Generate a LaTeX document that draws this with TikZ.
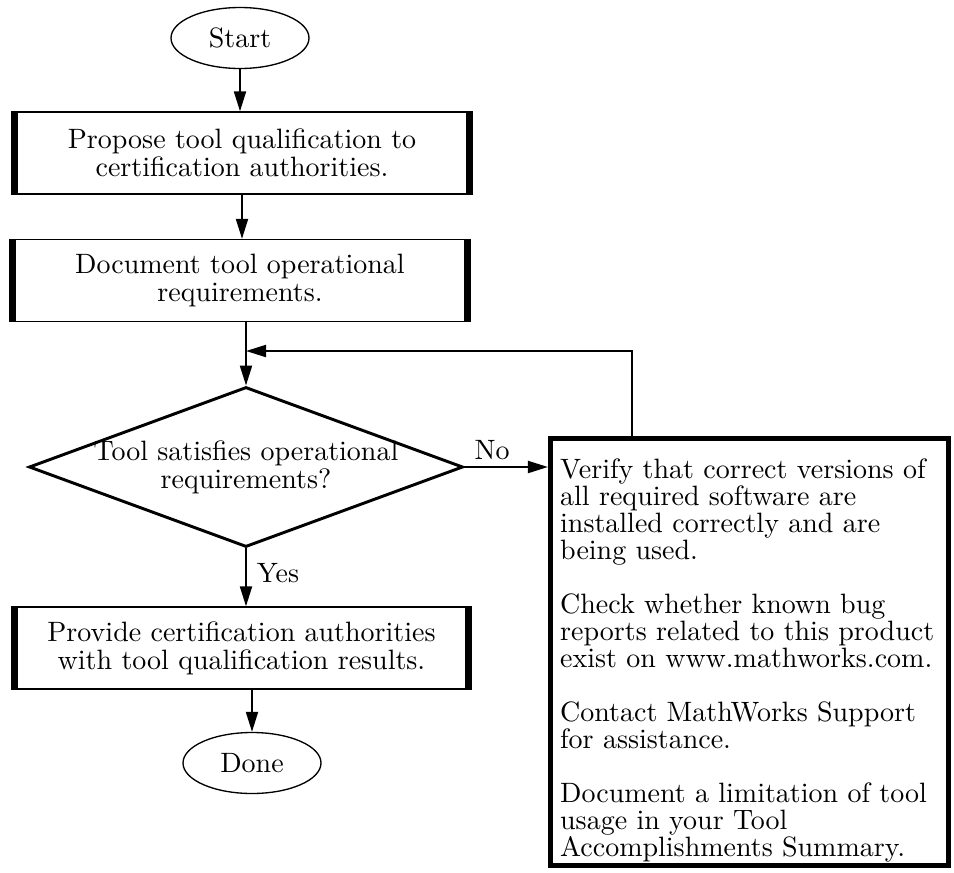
\documentclass[tikz,border=0pt]{standalone}
\usepackage{fontspec}
\setmainfont{lmroman10-regular}[Extension=.otf]
\usetikzlibrary{shapes.geometric,arrows.meta,calc}
\begin{document}
\begin{tikzpicture}[x=0.75pt,y=-0.75pt,
  every node/.style={inner sep=0pt, font=\fontsize{21}{21}\selectfont},
  term/.style={draw, ellipse, line width=1pt, minimum width=103.5pt, minimum height=45.75pt},
  procbox/.style={draw, rectangle, line width=1pt, minimum width=345pt, minimum height=61.5pt, align=center},
  link/.style={line width=1.5pt, -{Triangle[length=15pt,width=9pt]}}]
\useasboundingbox (0,0) rectangle (954,872);
% flow on the left
\node [term] (start) at (240,38) {Start};
\node [procbox] (prop) at (242,153) {Propose tool qualification to\\certification authorities.};
\node [procbox] (oper) at (240,280.5) {Document tool operational\\requirements.};
\node [draw, diamond, aspect=2.7, inner xsep=-8pt, line width=2.2pt, minimum width=325.5pt, minimum height=120pt, align=center] (sat) at (246,467) {Tool satisfies operational\\requirements?};
\node [procbox] (result) at (241.5,648) {Provide certification authorities\\with tool qualification results.};
\node [term] (done) at (252,763) {Done};
% thick bars on the box sides
\foreach \b in {prop,oper,result} {
  \fill [black] (\b.north west) rectangle ($(\b.south west)+(7,0)$);
  \fill [black] ($(\b.north east)+(-7,0)$) rectangle (\b.south east);
}
% box on the right
\node [draw, line width=3.8pt, minimum width=298.5pt, minimum height=320pt, text width=284pt, align=left,
  font=\fontsize{21}{20.25}\selectfont] (check) at (749.5,652) {\rule{0pt}{28pt}Verify that correct versions of\\
all required software are\\
installed correctly and are\\
being used.\\[20.25pt]
Check whether known bug\\
reports related to this product\\
exist on www.mathworks.com.\\[20.25pt]
Contact MathWorks Support\\
for assistance.\\[20.25pt]
Document a limitation of tool\\
usage in your Tool\\
Accomplishments Summary.};
\node (no) at (492,450) {No};
\node (yes) at (278,573) {Yes};
\coordinate (loop) at (632,351);
% connectors
\draw [link] (start.south) -- (start.south |- prop.north);
\draw [link] (prop.south) -- (prop.south |- oper.north);
\draw [link] (oper.south -| sat.north) -- (sat.north);
\draw [link] (check.north -| loop) -- (loop) -- (loop -| sat.north);
\draw [link] (sat.east) -- (sat.east -| check.west);
\draw [link] (sat.south) -- (sat.south |- result.north);
\draw [link] (result.south -| done.north) -- (done.north);
\end{tikzpicture}
\end{document}
